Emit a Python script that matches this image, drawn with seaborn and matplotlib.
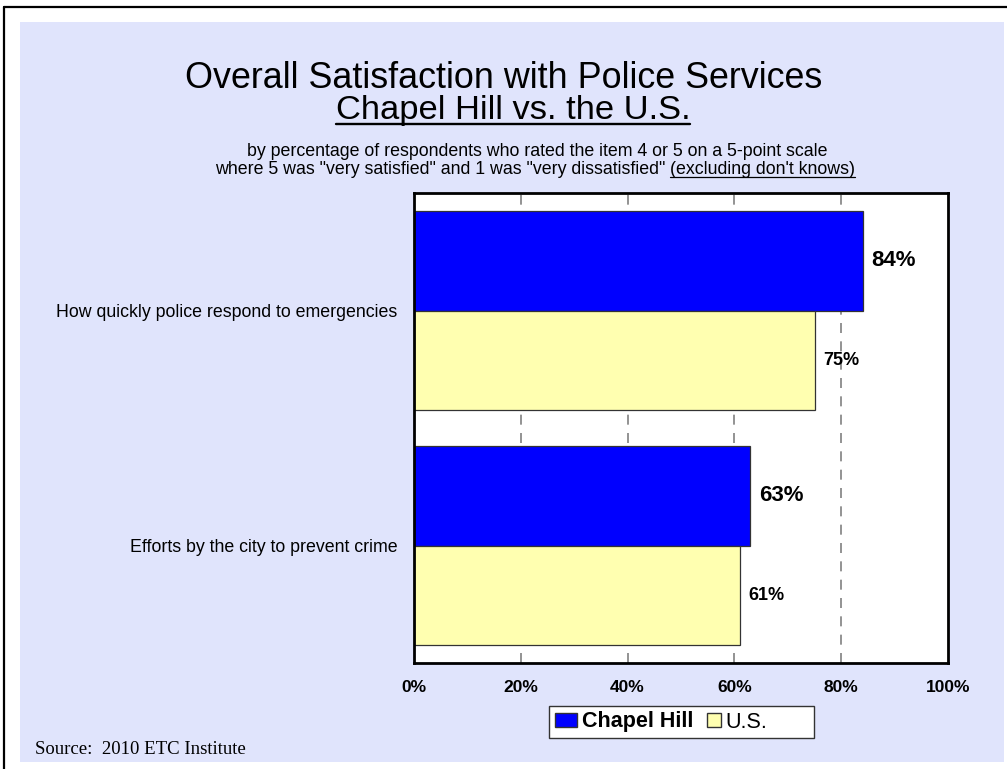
import matplotlib
matplotlib.use("Agg")
import matplotlib.pyplot as plt
from matplotlib.lines import Line2D
from matplotlib.patches import Rectangle
from matplotlib.legend_handler import HandlerPatch
import pandas as pd
import seaborn as sns

# Survey results (percent rating 4 or 5)
categories = ["How quickly police respond to emergencies",
              "Efforts by the city to prevent crime"]
chapel_hill = [84, 63]
us = [75, 61]
series_names = ["Chapel Hill", "U.S."]
tick_values = [0, 20, 40, 60, 80, 100]
tick_labels = ["0%", "20%", "40%", "60%", "80%", "100%"]

colors = {"Chapel Hill": "#0000FF", "U.S.": "#FFFFB0"}
panel_color = "#E0E4FC"

df = pd.DataFrame({
    "item": categories * 2,
    "pct": chapel_hill + us,
    "group": [series_names[0]] * len(categories) + [series_names[1]] * len(categories),
})

sns.set_theme(style="white")
plt.rcParams["font.family"] = ["Liberation Sans", "DejaVu Sans"]
plt.rcParams["text.color"] = "black"
plt.rcParams["xtick.color"] = "black"
plt.rcParams["ytick.color"] = "black"

W, H = 1007, 769
fig = plt.figure(figsize=(W / 100, H / 100), dpi=100, facecolor="white")

def fx(px):
    return px / W

def fy(py):
    return 1 - py / H

# lavender slide panel and the frame lines
fig.patches.append(Rectangle((fx(20), fy(762)), fx(1004) - fx(20), fy(22) - fy(762),
                             transform=fig.transFigure, facecolor=panel_color,
                             edgecolor="none", zorder=-5))
fig.lines.append(Line2D([fx(4), 1], [fy(7), fy(7)], transform=fig.transFigure,
                        color="black", lw=1.6, zorder=-4))
fig.lines.append(Line2D([fx(4), fx(4)], [fy(7), 0], transform=fig.transFigure,
                        color="black", lw=1.6, zorder=-4))

ax = fig.add_axes([fx(414), fy(663), fx(948) - fx(414), fy(193) - fy(663)])
ax.set_zorder(2)
ax.set_facecolor("white")

sns.barplot(data=df, y="item", x="pct", hue="group", orient="h",
            palette=colors, hue_order=series_names, order=categories,
            width=0.85, edgecolor="#333333", linewidth=0.9,
            saturation=1, ax=ax, legend=True)

ax.set_xlim(0, 100)
ax.set_ylim(1.5, -0.5)
ax.set_xticks(tick_values)
ax.set_xticklabels(tick_labels, fontsize=12.5, fontweight="bold")
ax.tick_params(axis="x", length=0, pad=12)
ax.tick_params(axis="y", length=0, pad=12)
ax.set_yticks(range(len(categories)))
ax.set_yticklabels(categories, fontsize=12.8)
ax.set_xlabel("")
ax.set_ylabel("")
for v in tick_values[1:-1]:
    ax.axvline(v, color="#808080", lw=1.2, ls=(0, (6, 5)), zorder=0)
for s in ax.spines.values():
    s.set_visible(True)
    s.set_color("black")
    s.set_linewidth(2)

# value labels
for cont, size in zip(ax.containers, [16, 13]):
    labels = [f"{v:.0f}%" for v in cont.datavalues]
    ax.bar_label(cont, labels=labels, padding=6, fontsize=size, fontweight="bold",
                 color="black")

# legend: white box with two swatches of different widths
handles, labels = ax.get_legend_handles_labels()
ax.get_legend().remove()

def wide_swatch(legend, orig_handle, xdescent, ydescent, width, height, fontsize):
    return Rectangle((-xdescent, -ydescent), width, height)

def small_swatch(legend, orig_handle, xdescent, ydescent, width, height, fontsize):
    side = height * 1.08
    return Rectangle((-xdescent + width - side, -ydescent - 0.04 * height), side, side)

fig.patches.append(Rectangle((fx(549), fy(738)), fx(814) - fx(549), fy(706) - fy(738),
                             transform=fig.transFigure, facecolor="white",
                             edgecolor="#333333", lw=1.0, zorder=3))
leg = fig.legend(handles, labels, loc="center left", bbox_to_anchor=(fx(551), fy(722)),
                 ncol=2, frameon=False, fontsize=15.5, handlelength=1.02,
                 handleheight=0.6, handletextpad=0.2, columnspacing=0.3,
                 borderpad=0.2, borderaxespad=0,
                 handler_map={handles[0]: HandlerPatch(patch_func=wide_swatch),
                              handles[1]: HandlerPatch(patch_func=small_swatch)})
leg.set_zorder(4)
for h in leg.legend_handles:
    h.set_edgecolor("#333333")
    h.set_linewidth(1.0)
leg.get_texts()[0].set_fontweight("bold")

# headings
fig.text(fx(504), fy(88), "Overall Satisfaction with Police Services",
         ha="center", va="baseline", fontsize=25.8)
t_sub = fig.text(fx(513), fy(119), "Chapel Hill vs. the U.S.",
                 ha="center", va="baseline", fontsize=24.8)
fig.text(fx(537), fy(156),
         "by percentage of respondents who rated the item 4 or 5 on a 5-point scale",
         ha="center", va="baseline", fontsize=12.8)

line2a = 'where 5 was "very satisfied" and 1 was "very dissatisfied"'
line2b = "(excluding don't knows)"

renderer = fig.canvas.get_renderer()
ta = fig.text(0, fy(174), line2a, ha="left", va="baseline", fontsize=12.8)
tb = fig.text(0, fy(174), line2b, ha="left", va="baseline", fontsize=12.8)
wa = ta.get_window_extent(renderer).width
wb = tb.get_window_extent(renderer).width
gap = 5
total = wa + gap + wb
x0 = 535 - total / 2
ta.set_x(fx(x0))
tb.set_x(fx(x0 + wa + gap))

def underline(t, y_px, lw=1.0):
    bb = t.get_window_extent(renderer)
    y = fy(y_px)
    fig.lines.append(Line2D([bb.x0 / W, bb.x1 / W], [y, y],
                            transform=fig.transFigure, color="black", lw=lw))

underline(t_sub, 124, lw=1.7)
underline(tb, 177, lw=0.9)

fig.text(fx(35), fy(754), "Source:  2010 ETC Institute", ha="left", va="baseline",
         fontsize=13.5, family=["Liberation Serif", "DejaVu Serif"])

fig.savefig("out.png", dpi=100, facecolor="white")
